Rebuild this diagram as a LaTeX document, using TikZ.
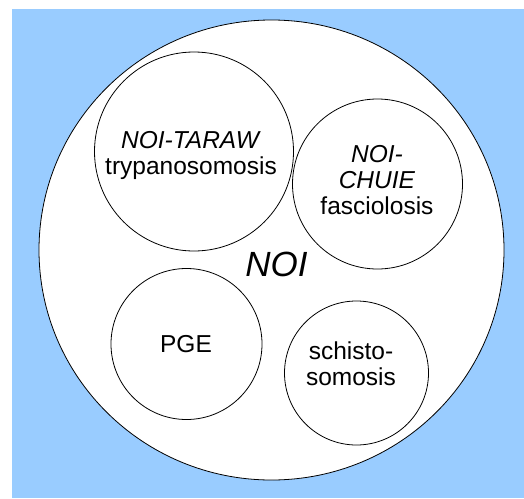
\documentclass[tikz,border=0pt]{standalone}
\usepackage{fontspec}
\setmainfont{Liberation Sans}
\usepackage{tikz}
\usetikzlibrary{shapes.geometric}
\usetikzlibrary{positioning}

\definecolor{skyback}{HTML}{99CCFF}

\begin{document}
\begin{tikzpicture}[
  x=1pt, y=-1pt,
  set/.style={circle, draw=black, line width=0.8pt, fill=white, inner sep=0pt},
  bigset/.style={ellipse, draw=black, line width=0.8pt, fill=white, inner sep=0pt},
  lbl/.style={align=center, inner sep=0pt, font=\fontsize{24.5}{26}\selectfont}
]
\useasboundingbox (0,0) rectangle (524,498);
\fill[skyback] (12,9) rectangle (524,498);

% outer set
\node[bigset, minimum width=465pt, minimum height=460pt] (noi) at (271.5,250) {};
\node[inner sep=0pt, font=\fontsize{35}{40}\selectfont\itshape] (noi_label)
  at ([xshift=5pt,yshift=-14.5pt]noi.center) {NOI};

% inner sets
\node[set, minimum size=199pt] (taraw) at (194,151.5) {};
\node[set, minimum size=170pt] (chuie) at (377.5,184) {};
\node[set, minimum size=151pt] (pge)   at (186.5,344) {};
\node[set, minimum size=144pt] (schisto) at (356.5,373) {};

\node[lbl] (taraw_label) at ([xshift=-3pt,yshift=-4pt]taraw.center)
  {\textit{NOI-TARAW}\\trypanosomosis};
\node[lbl] (chuie_label) at ([xshift=-0.5pt,yshift=4pt]chuie.center)
  {\textit{NOI-}\\\textit{CHUIE}\\fasciolosis};
\node[lbl] (pge_label) at ([xshift=-0.5pt,yshift=0pt]pge.center) {PGE};
\node[lbl] (schisto_label) at ([xshift=-5.5pt,yshift=9.5pt]schisto.center)
  {schisto-\\somosis};

\end{tikzpicture}
\end{document}
